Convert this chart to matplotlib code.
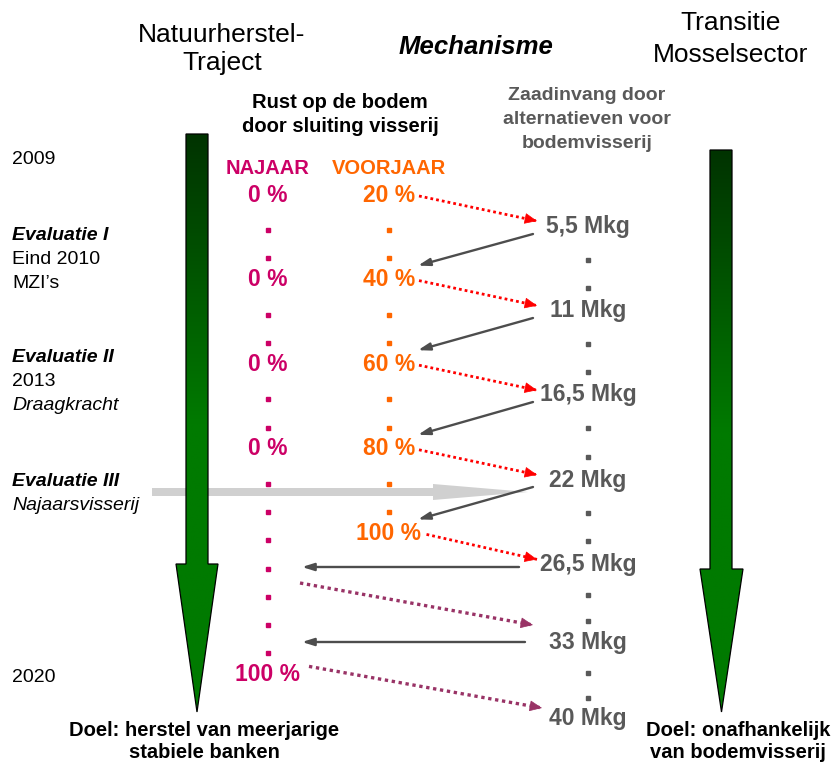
'''
Schema: natuurherstel-traject vs transitie mosselsector (2009 - 2020)
'''

import numpy as np
from matplotlib import pyplot as plt
from matplotlib.patches import Polygon
from matplotlib.colors import LinearSegmentedColormap

FONT = ['Liberation Sans', 'DejaVu Sans']

najaar_labels = ['0 %', '0 %', '0 %', '0 %', '100 %']
najaar_rows = [0, 3, 6, 9, 17]
voorjaar_labels = ['20 %', '40 %', '60 %', '80 %', '100 %']
voorjaar_rows = [0, 3, 6, 9, 12]
mkg_labels = ['5,5 Mkg', '11 Mkg', '16,5 Mkg', '22 Mkg', '26,5 Mkg', '33 Mkg', '40 Mkg']
mkg_y = [227, 311, 395, 480, 564, 642, 719]

left_notes = [('2009', 'normal', 160), ('Evaluatie I', 'bolditalic', 236),
              ('Eind 2010', 'normal', 259), ('MZI\u2019s', 'normal', 283),
              ('Evaluatie II', 'bolditalic', 357), ('2013', 'normal', 381),
              ('Draagkracht', 'italic', 405), ('Evaluatie III', 'bolditalic', 482),
              ('Najaarsvisserij', 'italic', 505), ('2020', 'normal', 678)]

MAGENTA = '#CC0066'
ORANGE = '#FF6600'
GREY = '#595959'

X_NAJ, X_VOOR, X_MKG = 268, 389, 588


def row_y(r):
    return 195 + r * 28.2


def txt(ax, x, y, s, size, color='black', style='normal', ha='center'):
    weight = 'bold' if 'bold' in style else 'normal'
    fstyle = 'italic' if 'italic' in style else 'normal'
    ax.text(x, y, s, fontsize=size, color=color, fontweight=weight,
            fontstyle=fstyle, ha=ha, va='center', family=FONT)


def green_arrow(ax, x0, x1, top, head_y, hx0, hx1, tip):
    xc = (hx0 + hx1) / 2
    pts = [(x0, top), (x1, top), (x1, head_y), (hx1, head_y), (xc, tip),
           (hx0, head_y), (x0, head_y)]
    poly = Polygon(pts, closed=True, facecolor='none', edgecolor='black',
                   lw=0.9, zorder=4)
    ax.add_patch(poly)
    cmap = LinearSegmentedColormap.from_list('g', ['#003300', '#007A00', '#007A00'])
    grad = np.linspace(0, 1, 256).reshape(-1, 1)
    im = ax.imshow(grad, cmap=cmap, extent=(hx0, hx1, tip, top),
                   aspect='auto', zorder=3)
    im.set_clip_path(poly)


def dotted_arrow(ax, p0, p1, color, lw=2.0):
    ax.plot([p0[0], p1[0]], [p0[1], p1[1]], color=color, lw=lw,
            linestyle=(0, (1, 1.1)), zorder=5)
    dx, dy = p1[0] - p0[0], p1[1] - p0[1]
    n = np.hypot(dx, dy)
    back = (p1[0] - dx / n * 12, p1[1] - dy / n * 12)
    ax.annotate('', xy=p1, xytext=back,
                arrowprops=dict(arrowstyle='-|>,head_length=0.8,head_width=0.35',
                                color=color, lw=0.5, shrinkA=0, shrinkB=0),
                zorder=5)


def solid_arrow(ax, p0, p1):
    ax.annotate('', xy=p1, xytext=p0,
                arrowprops=dict(arrowstyle='-|>,head_length=0.7,head_width=0.22',
                                color='#4D4D4D', lw=1.7, shrinkA=0, shrinkB=0),
                zorder=5)


def plot_scheme():
    fig = plt.figure(figsize=(8.34, 7.64), dpi=100)
    ax = fig.add_axes([0, 0, 1, 1])
    ax.set_xlim(0, 834)
    ax.set_ylim(764, 0)
    ax.axis('off')

    # headers
    txt(ax, 222, 35, 'Natuurherstel-', 19)
    txt(ax, 222, 63, 'Traject', 19)
    txt(ax, 731, 23, 'Transitie', 19)
    txt(ax, 731, 55, 'Mosselsector', 19)
    txt(ax, 476, 47, 'Mechanisme', 18.5, style='bolditalic')
    txt(ax, 340, 103, 'Rust op de bodem', 14.5, style='bold')
    txt(ax, 340, 127, 'door sluiting visserij', 14.5, style='bold')
    for i, s in enumerate(['Zaadinvang door', 'alternatieven voor', 'bodemvisserij']):
        txt(ax, 587, 96 + i * 24, s, 14, color=GREY, style='bold')
    txt(ax, X_NAJ, 168, 'NAJAAR', 14.5, color=MAGENTA, style='bold')
    txt(ax, X_VOOR, 168, 'VOORJAAR', 14.5, color=ORANGE, style='bold')

    for s, st, y in left_notes:
        txt(ax, 12, y, s, 14, style=st, ha='left')

    # green arrows
    green_arrow(ax, 186, 208, 134, 564, 176, 218, 712)
    green_arrow(ax, 710, 732, 150, 569, 700, 743, 712)

    # grey evaluation arrow
    ax.fill([152, 433, 433, 528, 433, 433, 152],
            [488, 488, 484, 492, 500, 496, 496],
            color='#D0D0D0', lw=0, zorder=2)

    # columns
    for s, r in zip(najaar_labels, najaar_rows):
        txt(ax, X_NAJ, row_y(r), s, 16.5, color=MAGENTA, style='bold')
    dots = [r for r in range(najaar_rows[-1]) if r not in najaar_rows]
    ax.plot([X_NAJ] * len(dots), [row_y(r) + 7 for r in dots], 's',
            color=MAGENTA, ms=2.2, zorder=5)

    for s, r in zip(voorjaar_labels, voorjaar_rows):
        txt(ax, X_VOOR, row_y(r), s, 16.5, color=ORANGE, style='bold')
    dots = [r for r in range(voorjaar_rows[-1]) if r not in voorjaar_rows]
    ax.plot([X_VOOR] * len(dots), [row_y(r) + 7 for r in dots], 's',
            color=ORANGE, ms=2.2, zorder=5)

    for s, y in zip(mkg_labels, mkg_y):
        txt(ax, X_MKG, y, s, 16.5, color=GREY, style='bold')
    for y1, y2 in zip(mkg_y[:-1], mkg_y[1:]):
        ys = [y1 + (y2 - y1) * k / 3 + 5 for k in (1, 2)]
        ax.plot([X_MKG] * 2, ys, 's', color=GREY, ms=2.2, zorder=5)

    # voorjaar -> mkg (red dotted) and mkg -> next voorjaar (grey)
    for i, (s, r) in enumerate(zip(voorjaar_labels, voorjaar_rows)):
        y0 = row_y(r) + 1
        dotted_arrow(ax, (X_VOOR + 7.5 * len(s), y0),
                     (537, y0 + 25), '#FF0000')
        if i < len(voorjaar_rows) - 1:
            solid_arrow(ax, (533, mkg_y[i] + 7), (418, row_y(voorjaar_rows[i + 1]) - 14))

    # najaar phase
    solid_arrow(ax, (519, mkg_y[4] + 3), (302, mkg_y[4] + 3))
    solid_arrow(ax, (525, mkg_y[5]), (302, mkg_y[5]))
    dotted_arrow(ax, (300, mkg_y[4] + 19), (533, mkg_y[5] - 17), '#993366', lw=2.4)
    dotted_arrow(ax, (309, row_y(najaar_rows[-1]) - 8), (542, mkg_y[6] - 11),
                 '#993366', lw=2.4)

    # goals
    txt(ax, 204, 730, 'Doel: herstel van meerjarige', 14.5, style='bold')
    txt(ax, 204, 752, 'stabiele banken', 14.5, style='bold')
    txt(ax, 738, 730, 'Doel: onafhankelijk', 14.5, style='bold')
    txt(ax, 738, 752, 'van bodemvisserij', 14.5, style='bold')

    fig.savefig('out.png', dpi=100)


if __name__ == '__main__':
    plot_scheme()
